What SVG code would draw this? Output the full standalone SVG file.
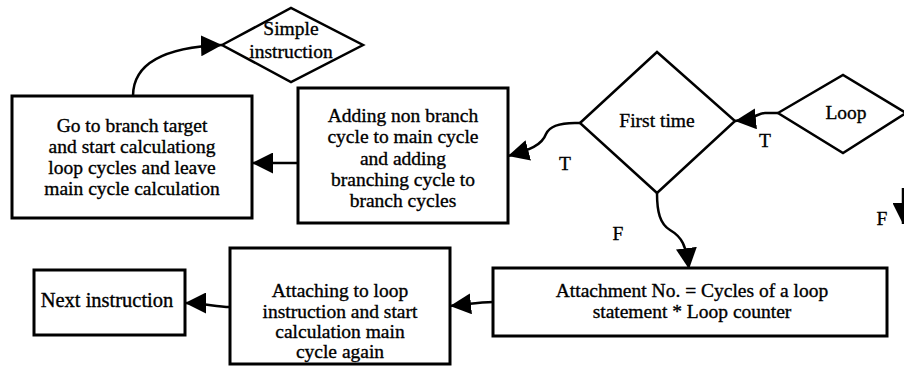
<svg xmlns="http://www.w3.org/2000/svg" width="904" height="367" viewBox="0 0 904 367" font-family="Liberation Serif, serif">
  <style>
    .box { fill: #fff; stroke: #000; stroke-width: 3; }
    .dia { fill: #fff; stroke: #000; stroke-width: 2.5; stroke-linejoin: miter; }
    .lbl { font-size: 19.5px; fill: #000; stroke: #000; stroke-width: 0.35; text-anchor: middle; }
    .edge { fill: none; stroke: #000; stroke-width: 2.5; marker-end: url(#head); }
  </style>
  <defs>
    <marker id="head" markerUnits="userSpaceOnUse" markerWidth="21" markerHeight="21" refX="21" refY="10.5" orient="auto" viewBox="0 0 21 21">
      <path d="M0,0 L21,10.5 L0,21 Z" fill="#000"/>
    </marker>
  </defs>
  <rect width="904" height="367" fill="#fff"/>

  <!-- connectors -->
  <g id="connectors">
    <path class="edge" d="M298,163 L252,163"/>
    <path class="edge" d="M133,96 C133,62 168,47 222,45"/>
    <path class="edge" d="M580,123 C557,122 549,127 546,134 C542,145 530,150 508,156"/>
    <path class="edge" d="M778,113 L765,113 C758,113 755,119 735,121"/>
    <path class="edge" d="M657,193 C657,212 660,224 670,230 C682,237 686,245 689,269"/>
    <path class="edge" d="M493,302 C480,302 470,304 450,306"/>
    <path class="edge" d="M230,307 C215,307 205,303 185,303"/>
    <path class="edge" d="M903,188 L903,224"/>
    <text class="lbl" x="565" y="170">T</text>
    <text class="lbl" x="765" y="147">T</text>
    <text class="lbl" x="618" y="240">F</text>
    <text class="lbl" x="882" y="225">F</text>
  </g>

  <!-- nodes -->
  <g id="simple-instruction">
    <polygon class="dia" points="222,45 291,8 363,45 291,82"/>
    <text class="lbl" x="291" y="35">Simple</text>
    <text class="lbl" x="291" y="58">instruction</text>
  </g>

  <g id="go-to-branch">
    <rect class="box" x="12" y="96" width="240" height="122"/>
    <text class="lbl" x="132" y="132">Go to branch target</text>
    <text class="lbl" x="132" y="153">and start calculationg</text>
    <text class="lbl" x="132" y="174">loop cycles and leave</text>
    <text class="lbl" x="132" y="195">main cycle calculation</text>
  </g>

  <g id="adding-cycles">
    <rect class="box" x="298" y="88" width="210" height="135"/>
    <text class="lbl" x="403" y="122">Adding non branch</text>
    <text class="lbl" x="403" y="143">cycle to main cycle</text>
    <text class="lbl" x="403" y="165">and adding</text>
    <text class="lbl" x="403" y="186">branching cycle to</text>
    <text class="lbl" x="403" y="207">branch cycles</text>
  </g>

  <g id="first-time">
    <polygon class="dia" points="580,123 657,52 735,121 657,193"/>
    <text class="lbl" x="657" y="127">First time</text>
  </g>

  <g id="loop">
    <polygon class="dia" points="778,113 843,75 906,113 843,153"/>
    <text class="lbl" x="846" y="119">Loop</text>
  </g>

  <g id="attachment-no">
    <rect class="box" x="493" y="268" width="394" height="68"/>
    <text class="lbl" x="692" y="297">Attachment No. = Cycles of a loop</text>
    <text class="lbl" x="692" y="318">statement * Loop counter</text>
  </g>

  <g id="attaching-to-loop">
    <rect class="box" x="230" y="248" width="220" height="116"/>
    <text class="lbl" x="340" y="297">Attaching to loop</text>
    <text class="lbl" x="340" y="318">instruction and start</text>
    <text class="lbl" x="340" y="338">calculation main</text>
    <text class="lbl" x="340" y="358">cycle again</text>
  </g>

  <g id="next-instruction">
    <rect class="box" x="34" y="270" width="151" height="65"/>
    <text class="lbl" x="107" y="307" font-size="20.5" style="font-size:20.5px">Next instruction</text>
  </g>
</svg>
